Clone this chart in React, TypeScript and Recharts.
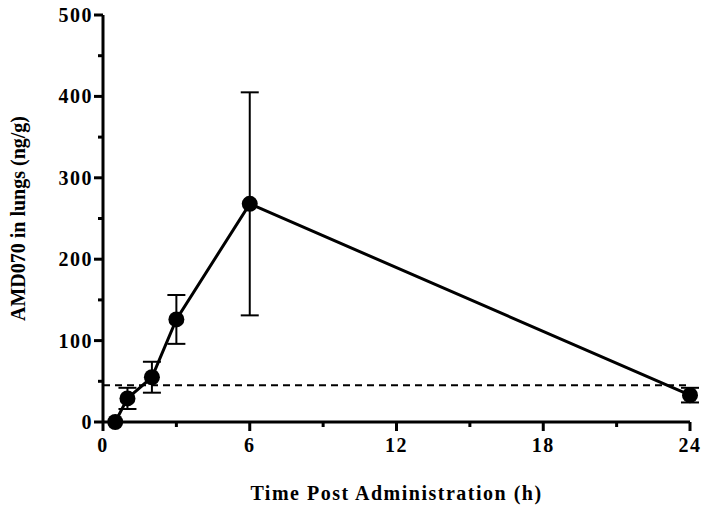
import { ComposedChart, Line, XAxis, YAxis, ErrorBar, ReferenceLine } from 'recharts';

// time after dosing (h) and AMD070 concentration in lung (ng/g)
const hours = [0.5, 1, 2, 3, 6, 24];
const conc = [0, 29, 55, 126, 268, 33];
const sd = [0, 13, 19, 30, 137, 9];
const limitOfQuant = 45;

const xTicks = [0, 3, 6, 9, 12, 15, 18, 21, 24];
const yTicks = [0, 50, 100, 150, 200, 250, 300, 350, 400, 450, 500];

const data = hours.map((h, i) => ({ h, c: conc[i], err: sd[i] }));

const FONT = '"Liberation Serif", "Times New Roman", serif';

const YTick = (props: any) => {
  const { x, y, payload } = props;
  const major = payload.value % 100 === 0;
  return (
    <g>
      <line x1={x - (major ? 9 : 5)} x2={x} y1={y} y2={y} stroke="#000" strokeWidth={3} />
      {major && (
        <text x={x - 10} y={y} dy={7} textAnchor="end" fontFamily={FONT} fontWeight="bold" fontSize={20} fill="#000" letterSpacing={1.5}>
          {payload.value}
        </text>
      )}
    </g>
  );
};

const XTick = (props: any) => {
  const { x, y, payload } = props;
  const major = payload.value % 6 === 0;
  return (
    <g>
      <line x1={x} x2={x} y1={y} y2={y + (major ? 9 : 5)} stroke="#000" strokeWidth={3} />
      {major && (
        <text x={x} y={y + 30} textAnchor="middle" fontFamily={FONT} fontWeight="bold" fontSize={20} fill="#000" letterSpacing={1.5}>
          {payload.value}
        </text>
      )}
    </g>
  );
};

export default function App() {
  return (
    <div style={{ position: 'absolute', left: 0, top: 0, background: '#fff' }}>
      <ComposedChart width={704} height={506} data={data} margin={{ top: 15, right: 14, bottom: 0, left: 0 }}>
        <XAxis
          type="number"
          dataKey="h"
          domain={[0, 24]}
          ticks={xTicks}
          interval={0}
          tickSize={0}
          tickMargin={0}
          tick={<XTick />}
          height={84}
          axisLine={{ stroke: '#000', strokeWidth: 3 }}
          label={{ value: 'Time Post Administration (h)', position: 'insideBottom', offset: 6, fontFamily: FONT, fontWeight: 'bold', fontSize: 20, fill: '#000', letterSpacing: 1.5 }}
        />
        <YAxis
          type="number"
          domain={[0, 500]}
          ticks={yTicks}
          interval={0}
          tickSize={0}
          tickMargin={0}
          tick={<YTick />}
          width={103}
          axisLine={{ stroke: '#000', strokeWidth: 3 }}
          label={{ value: 'AMD070 in lungs (ng/g)', angle: -90, position: 'insideLeft', offset: 18, fontFamily: FONT, fontWeight: 'bold', fontSize: 20, fill: '#000', style: { textAnchor: 'middle' } }}
        />
        <ReferenceLine y={limitOfQuant} stroke="#000" strokeWidth={2} strokeDasharray="7 5" ifOverflow="extendDomain" />
        <Line
          dataKey="c"
          stroke="#000"
          strokeWidth={3}
          dot={{ r: 8, fill: '#000', stroke: '#000', strokeWidth: 0 }}
          isAnimationActive={false}
        >
          <ErrorBar dataKey="err" direction="y" width={9} stroke="#000" strokeWidth={2} isAnimationActive={false} />
        </Line>
      </ComposedChart>
    </div>
  );
}
